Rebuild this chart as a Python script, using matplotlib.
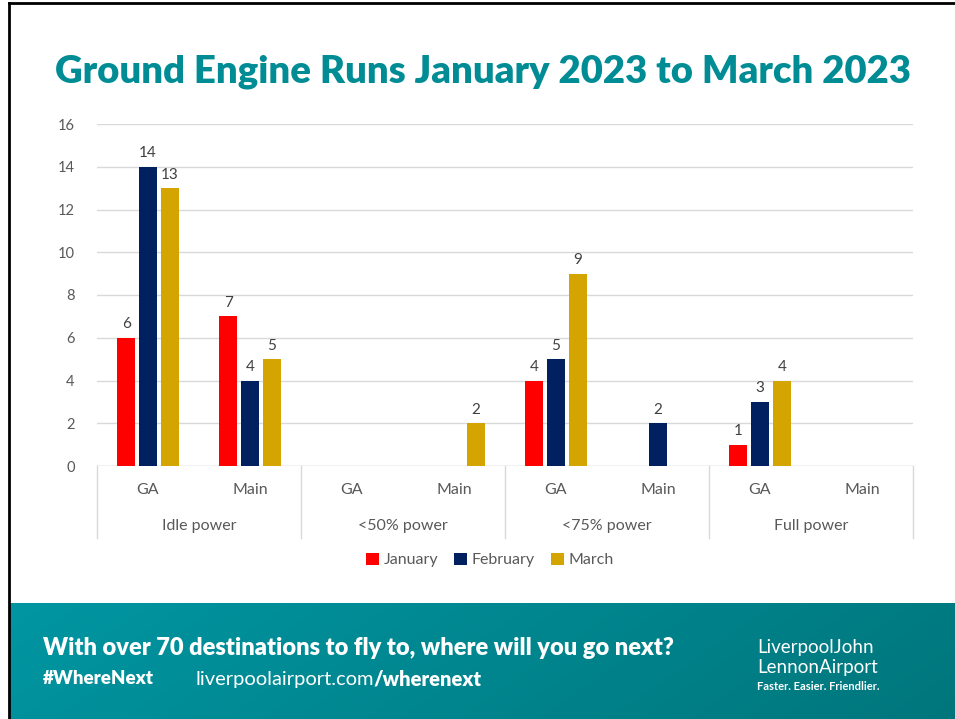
import numpy as np
import matplotlib.pyplot as plt
from matplotlib.lines import Line2D

groups = ['Idle power', '<50% power', '<75% power', 'Full power']
subcats = ['GA', 'Main']
months = ['January', 'February', 'March']
january = [6, 7, 0, 0, 4, 0, 1, 0]
february = [14, 4, 0, 0, 5, 2, 3, 0]
march = [13, 5, 0, 2, 9, 0, 4, 0]
colors = ['#FF0000', '#002060', '#D4A500']

plt.rcParams['font.family'] = ['Lato', 'DejaVu Sans']

W, H = 955, 719
fig = plt.figure(figsize=(W / 100, H / 100), dpi=100)

# frame lines
fig.add_artist(Line2D([9 / W, 9 / W], [0, 1 - 3 / H], color='black', lw=2))
fig.add_artist(Line2D([9 / W, 1], [1 - 3 / H, 1 - 3 / H], color='black', lw=2))

# teal band with gradient
band = fig.add_axes([10 / W, 0, 1 - 10 / W, 116 / H])
band.set_axis_off()
gx = np.linspace(0, 1, 200)
gy = np.linspace(0, 1, 50)
GX, GY = np.meshgrid(gx, gy)
c_left = np.array([0, 150, 162]) / 255
c_right = np.array([0, 118, 124]) / 255
t = np.clip(GX * 0.85 + (1 - GY) * 0.15, 0, 1)
img = c_left[None, None, :] * (1 - t[..., None]) + c_right[None, None, :] * t[..., None]
band.imshow(img, aspect='auto', extent=[0, 1, 0, 1], origin='lower')
band.set_xlim(0, 1)
band.set_ylim(0, 1)

fig.text(43 / W, 1 - 648 / H, 'With over 70 destinations to fly to, where will you go next?',
         color='white', fontsize=17, fontweight='heavy', va='center', ha='left')
fig.text(43 / W, 1 - 679 / H, '#WhereNext', color='white', fontsize=13.5,
         fontweight='heavy', va='center', ha='left')
url1 = fig.text(195 / W, 1 - 679 / H, 'liverpoolairport.com', color='white', fontsize=14.5,
                va='center', ha='left')
fig.canvas.draw()
bb = url1.get_window_extent()
fig.text(bb.x1 / W, 1 - 679 / H, '/wherenext', color='white', fontsize=14.5,
         fontweight='heavy', va='center', ha='left')
fig.text(757 / W, 1 - 648 / H, 'LiverpoolJohn', color='white', fontsize=13.5,
         va='center', ha='left')
fig.text(757 / W, 1 - 668 / H, 'LennonAirport', color='white', fontsize=13.5,
         va='center', ha='left')
fig.text(757 / W, 1 - 686 / H, 'Faster. Easier. Friendlier.', color='white', fontsize=8,
         fontweight='bold', va='center', ha='left')

# title
fig.text(483 / W, 1 - 72 / H, 'Ground Engine Runs January 2023 to March 2023',
         color='#008C95', fontsize=27.5, fontweight='heavy', ha='center', va='center')

# chart
ax = fig.add_axes([97 / W, 1 - 466 / H, 816 / W, 342 / H])
n = len(january)
x = np.arange(n)
offset = 0.215
width = 0.18
for i, (vals, c) in enumerate(zip([january, february, march], colors)):
    pos = x + (i - 1) * offset
    ax.bar(pos, vals, width=width, color=c, label=months[i], zorder=3)
    for p, v in zip(pos, vals):
        if v > 0:
            ax.text(p, v + 0.3, str(v), ha='center', va='bottom', fontsize=11,
                    color='#404040')

ax.set_xlim(-0.5, n - 0.5)
ax.set_ylim(0, 16)
ax.set_yticks(range(0, 17, 2))
ax.tick_params(axis='y', length=0, labelsize=10.5, labelcolor='#595959', pad=16)
ax.set_xticks([])
ax.grid(axis='y', color='#D9D9D9', lw=1, zorder=0)
for s in ax.spines.values():
    s.set_visible(False)
ax.axhline(0, color='#D9D9D9', lw=1, zorder=1)

# category axis labels
trans = ax.get_xaxis_transform()
for k in range(n):
    ax.text(k, -24 / 342, subcats[k % 2], transform=trans, ha='center', va='center',
            fontsize=11.5, color='#595959')
for g, name in enumerate(groups):
    ax.text(2 * g + 0.5, -60 / 342, name, transform=trans, ha='center', va='center',
            fontsize=11.5, color='#595959')
for b in range(len(groups) + 1):
    ax.plot([2 * b - 0.5, 2 * b - 0.5], [0, -72 / 342], transform=trans,
            color='#D9D9D9', lw=1, clip_on=False)

leg = ax.legend(loc='center', bbox_to_anchor=(490 / W, 1 - 560 / H),
                bbox_transform=fig.transFigure, ncol=3, frameon=False,
                fontsize=11.5, handlelength=0.8, handleheight=0.8,
                handletextpad=0.3, columnspacing=1.0)
for txt in leg.get_texts():
    txt.set_color('#595959')

fig.savefig('out.png', dpi=100)
